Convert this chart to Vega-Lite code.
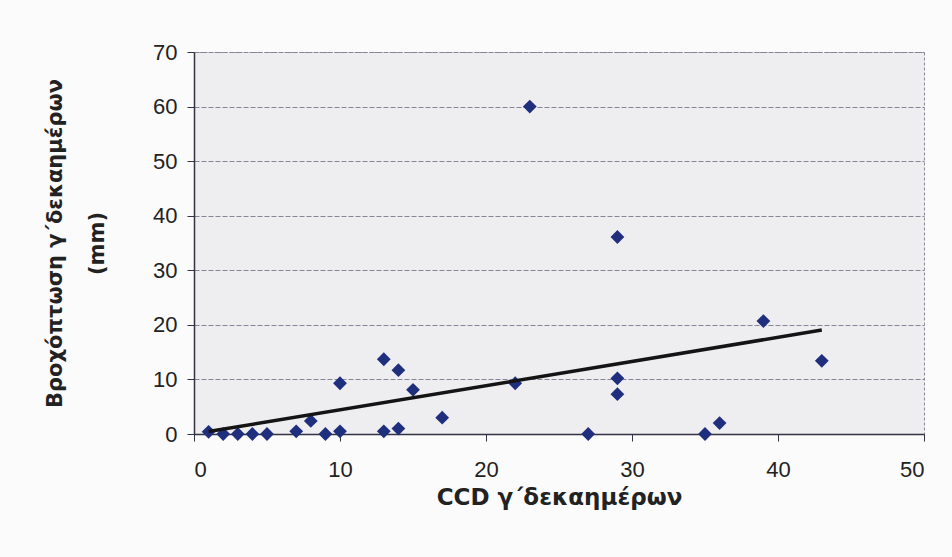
{
  "$schema": "https://vega.github.io/schema/vega-lite/v6.json",
  "autosize": "none",
  "width": 730,
  "height": 382,
  "padding": {"left": 194, "top": 52, "right": 28, "bottom": 123},
  "background": "#fbfbfb",
  "config": {
    "view": {"fill": "#eeeef0", "stroke": "#8a8a96", "strokeDash": [3, 2], "strokeWidth": 1},
    "font": "Liberation Sans"
  },
  "layer": [
    {
      "data": {"values": [
        {"ccd": 1, "rain": 0.4},
        {"ccd": 2, "rain": 0},
        {"ccd": 3, "rain": 0},
        {"ccd": 4, "rain": 0},
        {"ccd": 5, "rain": 0},
        {"ccd": 7, "rain": 0.5},
        {"ccd": 8, "rain": 2.4},
        {"ccd": 9, "rain": 0},
        {"ccd": 10, "rain": 0.5},
        {"ccd": 10, "rain": 9.3},
        {"ccd": 13, "rain": 13.7},
        {"ccd": 13, "rain": 0.5},
        {"ccd": 14, "rain": 11.7},
        {"ccd": 14, "rain": 1.0},
        {"ccd": 15, "rain": 8.1},
        {"ccd": 17, "rain": 3.0},
        {"ccd": 22, "rain": 9.3},
        {"ccd": 23, "rain": 60},
        {"ccd": 27, "rain": 0},
        {"ccd": 29, "rain": 36.1},
        {"ccd": 29, "rain": 10.2},
        {"ccd": 29, "rain": 7.3},
        {"ccd": 35, "rain": 0},
        {"ccd": 36, "rain": 2.0},
        {"ccd": 39, "rain": 20.7},
        {"ccd": 43, "rain": 13.4}
      ]},
      "mark": {"type": "point", "shape": "diamond", "filled": true, "size": 190, "color": "#1f2f7e", "opacity": 1, "clip": false},
      "encoding": {
        "x": {
          "field": "ccd", "type": "quantitative",
          "scale": {"domain": [0, 50], "nice": false, "zero": true},
          "axis": {
            "title": "CCD  γ΄δεκαημέρων",
            "values": [0, 10, 20, 30, 40, 50],
            "grid": false,
            "domainColor": "#333344",
            "domainWidth": 1.5,
            "tickColor": "#333344",
            "tickSize": 7,
            "labelPadding": 18,
            "labelFontSize": 22,
            "labelColor": "#222222",
            "labelFont": "Liberation Sans",
            "titleFont": "DejaVu Sans",
            "titleFontSize": 23,
            "titleFontWeight": "bold",
            "titleColor": "#222222",
            "titlePadding": 6
          }
        },
        "y": {
          "field": "rain", "type": "quantitative",
          "scale": {"domain": [0, 70], "nice": false},
          "axis": {
            "title": ["Βροχόπτωση γ΄δεκαημέρων", "(mm)"],
            "values": [0, 10, 20, 30, 40, 50, 60, 70],
            "grid": true,
            "gridColor": "#85859a",
            "gridDash": [5, 2],
            "gridWidth": 1,
            "domainColor": "#333344",
            "domainWidth": 1.5,
            "tickColor": "#333344",
            "tickSize": 7,
            "labelPadding": 10,
            "labelFontSize": 22,
            "labelColor": "#222222",
            "labelFont": "Liberation Sans",
            "titleFont": "DejaVu Sans",
            "titleFontSize": 21,
            "titleFontWeight": "bold",
            "titleColor": "#222222",
            "titleLineHeight": 42,
            "titlePadding": 45
          }
        }
      }
    },
    {
      "data": {"values": [
        {"ccd": 1, "rain": 0.44},
        {"ccd": 43, "rain": 19.05}
      ]},
      "mark": {"type": "line", "color": "#141414", "strokeWidth": 3.5},
      "encoding": {
        "x": {"field": "ccd", "type": "quantitative"},
        "y": {"field": "rain", "type": "quantitative"}
      }
    }
  ]
}
